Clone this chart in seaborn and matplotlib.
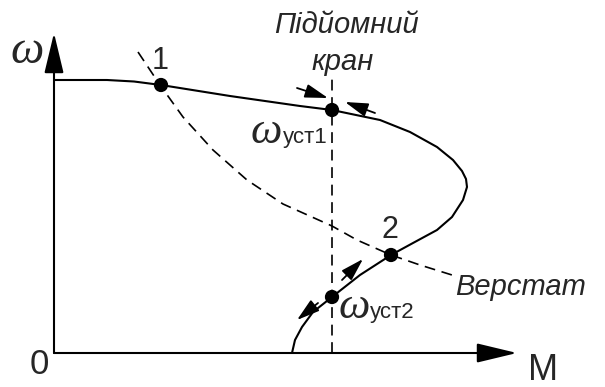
import matplotlib
matplotlib.use("Agg")
import matplotlib.pyplot as plt
import seaborn as sns
import pandas as pd

# Motor mechanical characteristic ω(M) (solid curve)
motor_M = [0.00, 0.53, 0.80, 1.07, 1.76, 2.46, 2.78, 3.26, 3.56, 3.83, 3.99, 4.08, 4.12,
           4.13, 4.09, 3.98, 3.83, 3.59, 3.37, 3.06, 2.78, 2.59, 2.48, 2.41, 2.38]
motor_w = [2.73, 2.73, 2.715, 2.68, 2.57, 2.47, 2.43, 2.33, 2.21, 2.06, 1.93, 1.82, 1.74,
           1.66, 1.53, 1.36, 1.23, 1.10, 0.98, 0.78, 0.56, 0.41, 0.26, 0.13, 0.00]

# Machine-tool (fan-type) load characteristic (dashed curve)
load_M = [0.84, 1.06, 1.29, 1.59, 1.93, 2.29, 2.78, 3.03, 3.37, 3.66, 3.98]
load_w = [3.01, 2.68, 2.36, 2.03, 1.73, 1.49, 1.27, 1.13, 0.98, 0.88, 0.78]

# Hoisting crane load: constant torque (vertical dashed line)
crane_M = [2.78, 2.78]
crane_w = [0.00, 2.78]

# Operating points
point_M = [1.07, 2.78, 3.37, 2.78]
point_w = [2.68, 2.43, 0.98, 0.56]

# Stability arrows (tail -> tip)
arrow_tail_M = [2.43, 3.21, 2.88, 2.64]
arrow_tail_w = [2.65, 2.40, 0.73, 0.50]
arrow_tip_M = [2.74, 2.91, 3.09, 2.43]
arrow_tip_w = [2.55, 2.51, 0.94, 0.33]

sns.set_theme(style="white")
plt.rcParams["font.family"] = ["Liberation Sans", "DejaVu Sans"]

fig = plt.figure(figsize=(6.05, 3.87), dpi=100)
ax = fig.add_axes([0, 0, 1, 1])
ax.set_xlim(-0.54, 5.51)
ax.set_ylim(-0.34, 3.53)
ax.axis("off")

motor = pd.DataFrame({"M": motor_M, "w": motor_w})
load = pd.DataFrame({"M": load_M, "w": load_w})
crane = pd.DataFrame({"M": crane_M, "w": crane_w})
points = pd.DataFrame({"M": point_M, "w": point_w})

sns.lineplot(data=motor, x="M", y="w", sort=False, estimator=None,
             color="black", lw=1.5, ax=ax)
sns.lineplot(data=load, x="M", y="w", sort=False, estimator=None,
             color="black", lw=1.2, ax=ax, linestyle=(0, (6.5, 4)))
sns.lineplot(data=crane, x="M", y="w", sort=False, estimator=None,
             color="black", lw=1.2, ax=ax, linestyle=(0, (6.5, 4)))
sns.scatterplot(data=points, x="M", y="w", s=105, color="black",
                edgecolor="none", zorder=5, ax=ax)

# Coordinate axes with arrowheads
axis_style = dict(arrowstyle="-|>,head_length=25,head_width=6", mutation_scale=1,
                  color="black", lw=1.5, shrinkA=0, shrinkB=0)
ax.annotate("", xy=(0, 3.20), xytext=(0, 0), arrowprops=axis_style)
ax.annotate("", xy=(4.63, 0), xytext=(0, 0), arrowprops=axis_style)

# Small direction arrows near the operating points
small_style = dict(arrowstyle="-|>,head_length=14,head_width=4.2", mutation_scale=1,
                   color="black", lw=1.3, shrinkA=0, shrinkB=0)
for tm, tw, hm, hw in zip(arrow_tail_M, arrow_tail_w, arrow_tip_M, arrow_tip_w):
    ax.annotate("", xy=(hm, hw), xytext=(tm, tw), arrowprops=small_style)

# Labels
omega_font = ["Liberation Serif", "DejaVu Serif"]
ax.text(-0.27, 3.01, "ω", fontsize=34, ha="center", va="center",
        family=omega_font, style="italic")
ax.text(-0.15, -0.12, "0", fontsize=25, ha="center", va="center")
ax.text(4.89, -0.17, "M", fontsize=26, ha="center", va="center")
ax.text(1.06, 2.92, "1", fontsize=22, ha="center", va="center")
ax.text(3.36, 1.23, "2", fontsize=22, ha="center", va="center")
ax.text(2.92, 3.20, "Підйомний", fontsize=21, style="italic",
        ha="center", va="baseline")
ax.text(2.89, 2.83, "кран", fontsize=21, style="italic",
        ha="center", va="baseline")
ax.text(4.01, 0.58, "Верстат", fontsize=21, style="italic",
        ha="left", va="baseline")

ax.text(1.97, 2.10, "ω", fontsize=32, style="italic", family=omega_font,
        ha="left", va="baseline")
ax.text(2.29, 2.10, "уст1", fontsize=16, ha="left", va="baseline")
ax.text(2.85, 0.35, "ω", fontsize=32, style="italic", family=omega_font,
        ha="left", va="baseline")
ax.text(3.16, 0.35, "уст2", fontsize=16, ha="left", va="baseline")

fig.savefig("out.png", dpi=100)
